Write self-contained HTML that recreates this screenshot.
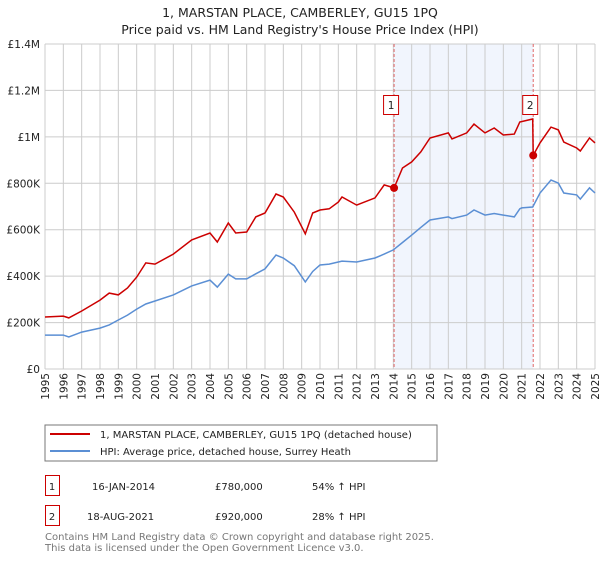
<!DOCTYPE html>
<html><head><meta charset="utf-8"><style>
body{margin:0;background:#fff;font-family:"Liberation Sans","DejaVu Sans",sans-serif;}
svg text{font-family:"DejaVu Sans","Liberation Sans",sans-serif;}
</style></head><body>
<svg id="chart" width="600" height="560" viewBox="0 0 600 560" xmlns="http://www.w3.org/2000/svg">
<text x="300" y="17" text-anchor="middle" font-size="12.5" fill="#222">1, MARSTAN PLACE, CAMBERLEY, GU15 1PQ</text>
<text x="300" y="34" text-anchor="middle" font-size="12.5" fill="#222">Price paid vs. HM Land Registry's House Price Index (HPI)</text>
<g id="grid"></g>
<g id="marks"></g>
<g id="axes"></g>
<rect x="45" y="425" width="392" height="36" fill="#fff" stroke="#777"/>
<line x1="50" y1="434" x2="90" y2="434" stroke="#cc0000" stroke-width="2"/>
<text x="100" y="438" font-size="10" fill="#222">1, MARSTAN PLACE, CAMBERLEY, GU15 1PQ (detached house)</text>
<line x1="50" y1="451" x2="90" y2="451" stroke="#5b8fd4" stroke-width="2"/>
<text x="100" y="455" font-size="10" fill="#222">HPI: Average price, detached house, Surrey Heath</text>
<g>
<rect x="45.5" y="475.5" width="14" height="20" fill="#fff" stroke="#cc0000"/>
<text x="52" y="490" text-anchor="middle" font-size="10" fill="#222">1</text>
<text x="92" y="490" font-size="10" fill="#222">16-JAN-2014</text>
<text x="215" y="490" font-size="10" fill="#222">£780,000</text>
<text x="312" y="490" font-size="10" fill="#222">54% ↑ HPI</text>
</g>
<g>
<rect x="45.5" y="505.5" width="14" height="20" fill="#fff" stroke="#cc0000"/>
<text x="52" y="520" text-anchor="middle" font-size="10" fill="#222">2</text>
<text x="87" y="520" font-size="10" fill="#222">18-AUG-2021</text>
<text x="215" y="520" font-size="10" fill="#222">£920,000</text>
<text x="312" y="520" font-size="10" fill="#222">28% ↑ HPI</text>
</g>
<text x="45" y="540" font-size="10" fill="#777">Contains HM Land Registry data © Crown copyright and database right 2025.</text>
<text x="45" y="551" font-size="10" fill="#777">This data is licensed under the Open Government Licence v3.0.</text>
</svg>
<script>
const years=[1995,1996,1996.3,1997,1998,1998.5,1999,1999.5,2000,2000.5,2001,2002,2003,2004,2004.4,2005,2005.4,2006,2006.5,2007,2007.6,2008,2008.6,2009.2,2009.6,2010,2010.5,2011,2011.2,2012,2013,2013.5,2014,2014.5,2015,2015.5,2016,2017,2017.2,2018,2018.4,2019,2019.5,2020,2020.6,2020.9,2021,2021.6,2022,2022.6,2023,2023.3,2024,2024.2,2024.7,2025];
const hpiValues=[146,146,138,159,176,190,211,232,258,280,293,319,358,383,353,409,388,388,410,431,491,478,445,375,420,448,452,461,465,461,478,495,513,545,577,610,642,655,648,663,685,663,670,663,655,690,694,698,758,814,801,758,750,732,780,758];
const propYears=[1995,1996,1996.3,1997,1998,1998.5,1999,1999.5,2000,2000.5,2001,2002,2003,2004,2004.4,2005,2005.4,2006,2006.5,2007,2007.6,2008,2008.6,2009.2,2009.6,2010,2010.5,2011,2011.2,2012,2013,2013.5,2014.04,2014.5,2015,2015.5,2016,2017,2017.2,2018,2018.4,2019,2019.5,2020,2020.6,2020.9,2021.6,2021.63,2022,2022.6,2023,2023.3,2024,2024.2,2024.7,2025];
const propValues=[224,228,220,250,297,327,319,349,396,457,452,495,556,586,547,629,586,590,655,672,754,741,676,582,672,685,690,719,741,706,737,793,780,866,892,935,995,1017,991,1017,1055,1017,1038,1008,1012,1064,1077,920,974,1042,1030,978,952,939,995,974];
const saleYears=[2014.04,2021.63];
const saleValues=[780,920];
const saleLabels=["1","2"];
const yTicks=[0,200,400,600,800,1000,1200,1400];
const yTickLabels=["£0","£200K","£400K","£600K","£800K","£1M","£1.2M","£1.4M"];
const xTicks=[1995,1996,1997,1998,1999,2000,2001,2002,2003,2004,2005,2006,2007,2008,2009,2010,2011,2012,2013,2014,2015,2016,2017,2018,2019,2020,2021,2022,2023,2024,2025];

const X0=45,X1=595,Y0=369,Y1=44;
const xs=y=>X0+(y-1995)*(X1-X0)/30;
const ys=v=>Y0-v*(Y0-Y1)/1400;
const NS="http://www.w3.org/2000/svg";
function mk(parent,tag,attrs){const e=document.createElementNS(NS,tag);for(const k in attrs)e.setAttribute(k,attrs[k]);parent.appendChild(e);return e;}
const grid=document.getElementById('grid'),marks=document.getElementById('marks'),axes=document.getElementById('axes');

const shade=mk(grid,'rect',{x:xs(saleYears[0]),y:Y1,width:xs(saleYears[1])-xs(saleYears[0]),height:Y0-Y1,fill:'#eef3fc',opacity:0.8});


xTicks.forEach(t=>{
  const l=mk(grid,'line',{x1:xs(t),x2:xs(t),y1:Y1,y2:Y0,stroke:'#cccccc','stroke-width':1});
  
  
  const px=xs(t)+4, py=373;
  const tx=mk(axes,'text',{x:px,y:py,'text-anchor':'end','font-size':10.5,fill:'#222',transform:`rotate(-90 ${px} ${py})`});
  
  
  tx.textContent=t;
});
yTicks.forEach((t,i)=>{
  const l=mk(grid,'line',{x1:X0,x2:X1,y1:ys(t),y2:ys(t),stroke:'#cccccc','stroke-width':1});
  
  
  const tx=mk(axes,'text',{x:40,y:ys(t)+4,'text-anchor':'end','font-size':10.5,fill:'#222'});
  
  
  tx.textContent=yTickLabels[i];
});
saleYears.forEach((s,i)=>{
  const l=mk(marks,'line',{x1:xs(s),x2:xs(s),y1:Y1,y2:Y0,stroke:'#e06666','stroke-width':1,'stroke-dasharray':'3,2'});
  
  
});
const pts=(xa,va)=>xa.map((x,i)=>xs(x).toFixed(1)+','+ys(va[i]).toFixed(1)).join(' ');
const hpi=mk(marks,'polyline',{points:pts(years,hpiValues),fill:'none',stroke:'#5b8fd4','stroke-width':1.5});


const prop=mk(marks,'polyline',{points:pts(propYears,propValues),fill:'none',stroke:'#cc0000','stroke-width':1.5});


saleYears.forEach((s,i)=>{
  const c=mk(marks,'circle',{cx:xs(s),cy:ys(saleValues[i]),r:4,fill:'#cc0000'});
  
  
  const r=mk(marks,'rect',{x:xs(s)-10.5,y:95.5,width:15,height:19,fill:'#fff',stroke:'#cc0000'});
  
  
  const t=mk(marks,'text',{x:xs(s)-3,y:109,'text-anchor':'middle','font-size':10.5,fill:'#222'});
  
  
  t.textContent=saleLabels[i];
});
</script>
</body></html>
